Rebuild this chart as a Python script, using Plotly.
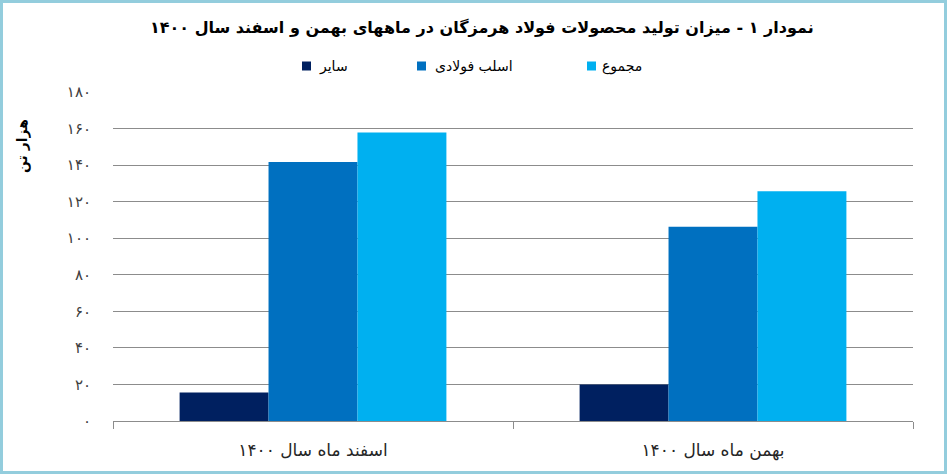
import plotly.graph_objects as go

categories = ["اسفند ماه سال ۱۴۰۰", "بهمن ماه سال ۱۴۰۰"]
series_names = ["سایر", "اسلب فولادی", "مجموع"]
saier = [15.6, 20.0]
eslab = [141.7, 106.3]
majmoo = [157.8, 125.7]
colors = ["#002060", "#0070C0", "#00B0F0"]
tick_vals = [0, 20, 40, 60, 80, 100, 120, 140, 160, 180]
tick_text = ["۰", "۲۰", "۴۰", "۶۰", "۸۰", "۱۰۰", "۱۲۰", "۱۴۰", "۱۶۰", "۱۸۰"]
title_text = "نمودار ۱ - میزان تولید محصولات فولاد هرمزگان در ماههای بهمن و اسفند سال ۱۴۰۰"
y_title = "هزار تن"

FONT = "DejaVu Sans"
W, H = 947, 474
ML, MR, MT, MB = 113, 34, 92, 53
PW, PH = W - ML - MR, H - MT - MB


def px_x(px):
    return (px - ML) / PW


def px_y(py):
    return (H - MB - py) / PH


fig = go.Figure()
for name, vals, col in zip(series_names, [saier, eslab, majmoo], colors):
    fig.add_trace(go.Bar(x=categories, y=vals, name=name, marker_color=col,
                         marker_line_width=0, showlegend=False))

annotations = [
    dict(text="<b>" + title_text + "</b>", x=px_x(482), y=px_y(28), xref="paper", yref="paper",
         showarrow=False, font=dict(family=FONT, size=16, color="#000000"),
         xanchor="center", yanchor="middle"),
    dict(text="<b>" + y_title + "</b>", x=px_x(22), y=px_y(146), xref="paper", yref="paper",
         showarrow=False, textangle=-90, font=dict(family=FONT, size=14, color="#000000"),
         xanchor="center", yanchor="middle"),
]
shapes = [
    dict(type="rect", xref="paper", yref="paper", x0=px_x(1.5), x1=px_x(945.5),
         y0=px_y(472.5), y1=px_y(1.5), line=dict(color="#93CDDD", width=3), layer="below"),
]
leg_sq = [302, 417, 587]
leg_tx = [317, 433, 600]
for name, col, sx, tx in zip(series_names, colors, leg_sq, leg_tx):
    shapes.append(dict(type="rect", xref="paper", yref="paper", x0=px_x(sx), x1=px_x(sx + 9),
                       y0=px_y(70.5), y1=px_y(61.5), fillcolor=col, line=dict(width=0)))
    annotations.append(dict(text=name, x=px_x(tx), y=px_y(66), xref="paper", yref="paper",
                            showarrow=False, font=dict(family=FONT, size=14, color="#000000"),
                            xanchor="left", yanchor="middle"))

fig.update_layout(
    width=W, height=H,
    margin=dict(l=ML, r=MR, t=MT, b=MB),
    paper_bgcolor="white", plot_bgcolor="white",
    barmode="group", bargap=0.333, bargroupgap=0,
    font=dict(family=FONT, color="#404040"),
    annotations=annotations, shapes=shapes,
    xaxis=dict(type="category", categoryorder="array", categoryarray=categories,
               showline=True, linecolor="#8C8C8C", linewidth=1,
               ticks="outside", tickson="boundaries", ticklen=7, tickcolor="#8C8C8C",
               tickfont=dict(family=FONT, size=17, color="#262626"),
               ticklabelstandoff=14, showgrid=False),
    yaxis=dict(range=[0, 180], tickvals=tick_vals, ticktext=tick_text,
               showgrid=True, gridcolor="#8C8C8C", gridwidth=1, zeroline=False,
               showline=False, ticks="", ticklabelstandoff=21,
               tickfont=dict(family=FONT, size=15, color="#404040")),
)

fig.write_html("out.html", config={"displayModeBar": False},
               post_script="document.body.style.margin='0';document.body.style.overflow='hidden';")
